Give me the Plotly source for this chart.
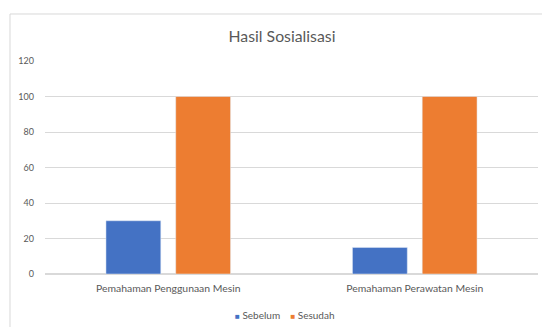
import plotly.graph_objects as go

categories = ["Pemahaman Penggunaan Mesin", "Pemahaman Perawatan Mesin"]
sebelum = [30, 15]
sesudah = [100, 100]
y_ticks = [0, 20, 40, 60, 80, 100, 120]
series_names = ["Sebelum", "Sesudah"]
colors = ["#4472C4", "#ED7D31"]

FONT = "Lato"
GRAY = "#595959"

fig = go.Figure()
fig.add_trace(go.Bar(name=series_names[0], x=categories, y=sebelum, marker_color=colors[0]))
fig.add_trace(go.Bar(name=series_names[1], x=categories, y=sesudah, marker_color=colors[1]))

legend_text = "    ".join(
    f"<span style='color:{c};font-size:8px'>■</span> {n}" for n, c in zip(series_names, colors)
)

fig.update_layout(
    width=542, height=327,
    margin=dict(l=45, r=4, t=61, b=53),
    paper_bgcolor="white", plot_bgcolor="white",
    barmode="group", bargap=0.434, bargroupgap=0.214,
    font=dict(family=FONT, color=GRAY, size=8),
    title=dict(text="Hasil Sosialisasi", x=282 / 542, xref="container", y=1 - 36 / 327, yref="container",
               xanchor="center", yanchor="middle", font=dict(size=15.8, color=GRAY, family=FONT)),
    showlegend=False,
    xaxis=dict(showgrid=False, showline=False, ticks="", tickfont=dict(size=10.4, color=GRAY),
               ticklabelstandoff=7),
    yaxis=dict(range=[0, 120], tickvals=y_ticks, showgrid=True, gridcolor="#d9d9d9", gridwidth=1,
               zeroline=True, zerolinecolor="#d9d9d9", showline=False, ticks="",
               tickfont=dict(size=9, color=GRAY), ticklabelstandoff=10),
    annotations=[dict(text=legend_text, x=(285 - 45) / 493, y=(274 - 315) / 213, xref="paper",
                      yref="paper", xanchor="center", yanchor="middle", showarrow=False,
                      font=dict(size=10, color=GRAY, family=FONT))],
    shapes=[dict(type="rect", xref="paper", yref="paper", x0=-0.071, x1=1.02, y0=-0.3, y1=1.2207,
                 line=dict(color="#d9d9d9", width=1), fillcolor="rgba(0,0,0,0)", layer="below")],
)

fig.write_html("out.html")
